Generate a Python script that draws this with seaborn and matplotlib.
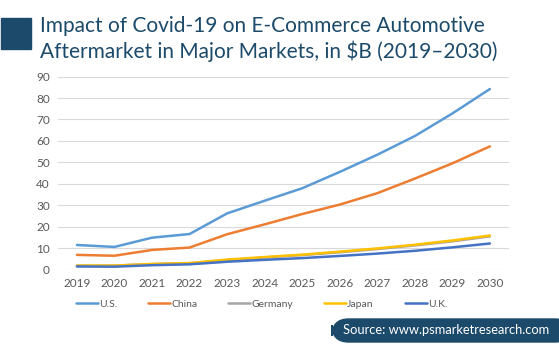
import numpy as np
import pandas as pd
import matplotlib
matplotlib.use('Agg')
import matplotlib.pyplot as plt
import seaborn as sns
from matplotlib.patches import FancyBboxPatch, Rectangle

# Data ($B)
years = [2019, 2020, 2021, 2022, 2023, 2024, 2025, 2026, 2027, 2028, 2029, 2030]
us = [11.6, 10.7, 15.0, 16.7, 26.3, 32.2, 38.0, 45.6, 53.6, 62.3, 72.8, 84.2]
china = [7.0, 6.6, 9.3, 10.4, 16.6, 21.2, 26.0, 30.4, 35.7, 42.5, 49.6, 57.5]
germany = [2.0, 2.0, 2.7, 3.1, 4.6, 5.8, 6.9, 8.2, 9.7, 11.4, 13.3, 15.6]
japan = [2.0, 2.0, 2.8, 3.2, 4.8, 6.0, 7.1, 8.5, 10.0, 11.7, 13.7, 16.0]
uk = [1.6, 1.5, 2.2, 2.6, 3.8, 4.7, 5.5, 6.5, 7.6, 8.9, 10.5, 12.3]
countries = ['U.S.', 'China', 'Germany', 'Japan', 'U.K.']
colors = ['#5B9BD5', '#ED7D31', '#A5A5A5', '#FFC000', '#4472C4']

df = pd.DataFrame({'Year': years, 'U.S.': us, 'China': china,
                   'Germany': germany, 'Japan': japan, 'U.K.': uk})
long_df = df.melt(id_vars='Year', var_name='Country', value_name='Value')

sns.set_style('white')
plt.rcParams['font.family'] = ['Lato', 'DejaVu Sans']

fig = plt.figure(figsize=(5.59, 3.51), dpi=100)
ax = fig.add_axes([0.104, 0.231, 0.806, 0.551])

sns.lineplot(data=long_df, x='Year', y='Value', hue='Country',
             hue_order=countries, palette=colors, linewidth=1.8, ax=ax)

ax.set_xlim(2018.5, 2030.5)
ax.set_ylim(0, 90)
ax.set_yticks(np.arange(0, 91, 10))
ax.set_xticks(years)
ax.set_xlabel('')
ax.set_ylabel('')
ax.grid(axis='y', color='#D9D9D9', linewidth=0.8)
ax.set_axisbelow(True)
for s in ax.spines.values():
    s.set_visible(False)
ax.tick_params(axis='both', length=0, labelsize=8.5, labelcolor='#595959', pad=6)

handles, labels = ax.get_legend_handles_labels()
ax.get_legend().remove()
fig.legend(handles, labels, loc='center', bbox_to_anchor=(0.468, 0.134), ncol=5,
           frameon=False, fontsize=7.5, handlelength=2.1, handletextpad=0.1,
           columnspacing=3.0, labelcolor='#595959')

# Title block
fig.patches.append(Rectangle((1 / 559, 1 - 49 / 351), 30 / 559, 31 / 351,
                             transform=fig.transFigure, color='#1C4A6A'))
fig.text(40 / 559, 1 - 26 / 351, 'Impact of Covid-19 on E-Commerce Automotive',
         fontsize=15.0, color='#1C4A6A', va='center', ha='left')
fig.text(40 / 559, 1 - 51 / 351, 'Aftermarket in Major Markets, in $B (2019\u20132030)',
         fontsize=15.0, color='#1C4A6A', va='center', ha='left')

# Source badge
fig.patches.append(FancyBboxPatch((332 / 559, 1 - 342 / 351), 240 / 559, 23 / 351,
                                  boxstyle='round,pad=0,rounding_size=0.03',
                                  transform=fig.transFigure, color='#1C4A6A',
                                  mutation_aspect=559 / 351))
fig.text(446 / 559, 1 - 330.5 / 351, 'Source: www.psmarketresearch.com',
         fontsize=9.3, color='white', va='center', ha='center')

fig.savefig('out.png', dpi=100)
